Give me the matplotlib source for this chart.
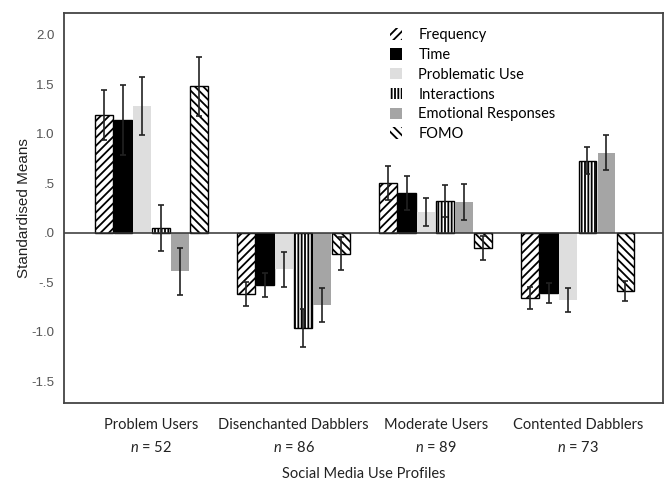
import matplotlib
matplotlib.use('Agg')
import matplotlib.pyplot as plt
import numpy as np

# %% Data
profiles = ['Problem Users', 'Disenchanted Dabblers', 'Moderate Users', 'Contented Dabblers']
n_sizes = [52, 86, 89, 73]
measures = ['Frequency', 'Time', 'Problematic Use', 'Interactions',
            'Emotional Responses', 'FOMO']

# standardised means per measure, one value per profile
frequency    = [1.19, -0.62, 0.50, -0.66]
time_        = [1.14, -0.53, 0.40, -0.61]
problematic  = [1.28, -0.37, 0.21, -0.68]
interactions = [0.05, -0.96, 0.32, 0.73]
emotional    = [-0.39, -0.73, 0.31, 0.81]
fomo         = [1.48, -0.21, -0.15, -0.59]

# error bar half-widths
frequency_err    = [0.25, 0.12, 0.17, 0.11]
time_err         = [0.35, 0.12, 0.17, 0.10]
problematic_err  = [0.29, 0.18, 0.14, 0.12]
interactions_err = [0.23, 0.19, 0.16, 0.14]
emotional_err    = [0.24, 0.17, 0.18, 0.18]
fomo_err         = [0.30, 0.17, 0.12, 0.10]

yticks = [2.0, 1.5, 1.0, 0.5, 0.0, -0.5, -1.0, -1.5]
ytick_labels = ['2.0', '1.5', '1.0', '.5', '.0', '-.5', '-1.0', '-1.5']

# %% Styles
plt.rcParams['hatch.linewidth'] = 1.3
plt.rcParams['mathtext.fontset'] = 'custom'
plt.rcParams['mathtext.it'] = 'Lato:italic'
plt.rcParams['mathtext.rm'] = 'Lato'

styles = [
    dict(color='white', edgecolor='black', hatch='////'),
    dict(color='black', edgecolor='black'),
    dict(color='#dedede', edgecolor='none'),
    dict(color='white', edgecolor='black', hatch='|||||'),
    dict(color='#a5a5a5', edgecolor='none'),
    dict(color='white', edgecolor='black', hatch='\\\\\\\\'),
]

series = [frequency, time_, problematic, interactions, emotional, fomo]
errors = [frequency_err, time_err, problematic_err, interactions_err,
          emotional_err, fomo_err]

# %% Plot
fig = plt.figure(figsize=(6.65, 4.8), dpi=100)
ax = fig.add_axes([0.0962, 0.160, 0.901, 0.813])

x = np.arange(len(profiles))
step = 0.134
for i, (vals, errs, st, name) in enumerate(zip(series, errors, styles, measures)):
    pos = x + (i - 2.5) * step
    ax.bar(pos, vals, width=step * 0.93, linewidth=1.0, label=name, **st)
    ax.errorbar(pos, vals, yerr=errs, fmt='none', ecolor='#222222',
                elinewidth=1.2, capsize=2.5, capthick=1.2)

ax.axhline(0, color='#333333', linewidth=1.1)
ax.set_xlim(-0.615, 3.6)
ax.set_ylim(-1.72, 2.22)

ax.set_yticks(yticks)
ax.set_yticklabels(ytick_labels, fontsize=9.5, color='#555555',
                   family='Liberation Sans')
ax.tick_params(axis='y', length=0, pad=7)
ax.set_xticks(x)
ax.set_xticklabels([f'{p}\n$n$ = {n}' for p, n in zip(profiles, n_sizes)],
                   fontsize=10.5, family='Lato', color='#222222', linespacing=1.6)
ax.tick_params(axis='x', length=0, pad=11)

ax.set_ylabel('Standardised Means', fontsize=11, family='Liberation Sans',
              color='#222222', labelpad=0)
ax.set_xlabel('Social Media Use Profiles', fontsize=10.5, family='Lato',
              color='#222222', labelpad=9)

for sp in ax.spines.values():
    sp.set_color('#444444')
    sp.set_linewidth(1.3)

leg = ax.legend(loc='upper left', bbox_to_anchor=(0.522, 0.995), frameon=False,
                prop={'family': 'Lato', 'size': 10.5}, handlelength=0.85,
                handleheight=0.85, handletextpad=1.1, labelspacing=0.4)
for h in leg.legend_handles:
    h.set_linewidth(0)

fig.savefig('out.png', dpi=100)
